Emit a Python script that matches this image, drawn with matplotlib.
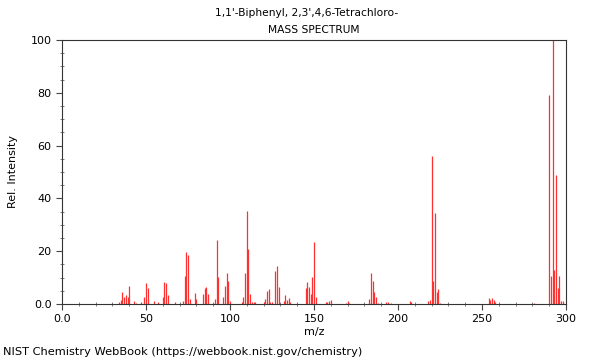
import matplotlib
matplotlib.use('Agg')
import matplotlib.pyplot as plt
from matplotlib.ticker import MultipleLocator, FuncFormatter

# peak list
mz = [34, 35, 36, 37, 38, 39, 40, 43, 44, 47, 49, 50, 51, 55, 57, 60, 61, 62,
      63, 67, 72, 73, 74, 75, 76, 79, 80, 84, 85, 86, 87, 91, 92, 93, 96, 97,
      98, 99, 100, 107, 108, 109, 110, 111, 112, 113, 114, 115, 120, 121, 122,
      123, 124, 125, 127, 128, 129, 132, 133, 134, 135, 136, 145, 146, 147,
      148, 149, 150, 151, 157, 158, 159, 160, 169, 170, 171, 183, 184, 185,
      186, 187, 188, 193, 194, 196, 207, 208, 218, 219, 220, 221, 222, 223,
      224, 225, 254, 255, 256, 257, 258, 281, 290, 291, 292, 293, 294, 295,
      296, 297, 298]
intensity = [0.9, 1.5, 4.5, 2.5, 3.4, 2.5, 6.8, 1.0, 0.5, 0.7, 2.5, 7.8, 6.0,
             1.2, 0.8, 2.8, 8.3, 8.1, 3.4, 0.8, 1.1, 10.7, 19.8, 18.6, 1.8,
             4.0, 1.8, 3.8, 5.9, 6.6, 3.6, 1.8, 24.2, 10.2, 2.6, 6.8, 11.8,
             8.6, 1.1, 0.6, 2.8, 11.9, 35.4, 20.8, 3.7, 0.8, 0.8, 0.8, 0.8,
             1.8, 4.9, 5.7, 0.8, 0.8, 12.5, 14.5, 6.3, 1.3, 3.4, 1.5, 2.3,
             0.8, 5.9, 8.5, 6.3, 3.8, 10.1, 23.6, 2.5, 0.7, 0.8, 1.1, 1.5,
             0.5, 1.0, 0.5, 1.9, 11.9, 8.7, 4.7, 2.5, 0.5, 0.8, 0.7, 0.5,
             1.0, 0.7, 1.0, 1.5, 56.0, 8.8, 34.6, 4.7, 5.7, 0.5, 2.3, 1.5,
             2.4, 1.5, 0.6, 0.4, 79.0, 10.6, 100.0, 12.9, 48.9, 6.0, 10.6,
             1.0, 1.0]

title1 = "1,1'-Biphenyl, 2,3',4,6-Tetrachloro-"
title2 = "MASS SPECTRUM"
credit = "NIST Chemistry WebBook (https://webbook.nist.gov/chemistry)"

FONTSIZE = 8
plt.rcParams['font.family'] = 'DejaVu Sans'
plt.rcParams['font.size'] = FONTSIZE

fig = plt.figure(figsize=(6, 3.6), dpi=100)
ax = fig.add_axes([62 / 600, 1 - 304 / 360, 504 / 600, 264 / 360])

ax.vlines(mz, 0, intensity, colors='#ff3030', linewidth=0.9)

ax.set_xlim(0, 300)
ax.set_ylim(0, 100)

fmt = FuncFormatter(lambda v, pos: '0.0' if v == 0 else '%d' % v)
ax.xaxis.set_major_locator(MultipleLocator(50))
ax.xaxis.set_minor_locator(MultipleLocator(10))
ax.yaxis.set_major_locator(MultipleLocator(20))
ax.yaxis.set_minor_locator(MultipleLocator(5))
ax.xaxis.set_major_formatter(fmt)
ax.yaxis.set_major_formatter(fmt)
ax.tick_params(which='major', direction='out', length=4, width=0.8,
               color='#444444', labelsize=FONTSIZE)
ax.tick_params(which='minor', direction='inout', length=3, width=0.6,
               color='#666666')
for sp in ax.spines.values():
    sp.set_color('#333333')
    sp.set_linewidth(0.8)

ax.set_xlabel('m/z', fontsize=FONTSIZE, labelpad=2)
ax.set_ylabel('Rel. Intensity', fontsize=FONTSIZE)
ax.yaxis.set_label_coords(-0.088, 0.5)

fig.text(306.5 / 600, 1 - 13 / 360, title1, ha='center', va='center', fontsize=7.7)
fig.text(314 / 600, 1 - 30 / 360, title2, ha='center', va='center', fontsize=7.7)
fig.text(3 / 600, 1 - 352 / 360, credit, ha='left', va='center', fontsize=8.2)

fig.savefig('out.png', dpi=100)
